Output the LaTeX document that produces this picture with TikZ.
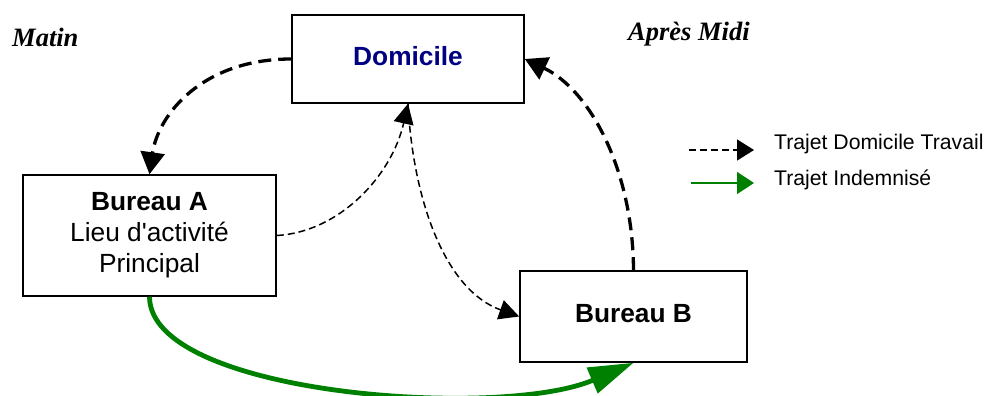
\documentclass[tikz,border=0pt]{standalone}
\usepackage{fontspec}
\setmainfont{Liberation Sans}[Ligatures=TeXOff]
\newfontfamily\serifbi{Liberation Serif}[BoldItalicFont={* Bold Italic}]
\usetikzlibrary{arrows.meta}
\definecolor{domblue}{RGB}{0,0,128}
\definecolor{indemn}{RGB}{0,128,0}
\tikzset{
  place/.style={draw=black, line width=1.6pt, fill=white, inner sep=0pt,
    align=center, font=\fontsize{26.3}{31}\selectfont},
  tripthick/.style={draw=black, line width=3.3pt, dash pattern=on 13pt off 7pt,
    -{Triangle[length=22pt,width=24pt]}},
  tripthin/.style={draw=black, line width=1.5pt, dash pattern=on 7pt off 4pt,
    -{Triangle[length=20pt,width=20pt]}},
  paid/.style={draw=indemn, line width=4.8pt,
    -{Triangle[length=45pt,width=27pt,fill=indemn]}},
  period/.style={font=\serifbi\bfseries\itshape\fontsize{26.5}{30}\selectfont},
  legendtxt/.style={font=\fontsize{21.2}{24}\selectfont, inner sep=0pt},
}
\begin{document}
\begin{tikzpicture}[x=1pt, y=-1pt]
\useasboundingbox (0,0) rectangle (988,396);

% places
\node[place, minimum width=232pt, minimum height=88pt,
      text height=19pt, text depth=5.6pt] (dom) at (408,59)
      {\bfseries\color{domblue}Domicile};
\node[place, minimum width=253pt, minimum height=121pt] (ba) at (149.5,235.5)
      {\bfseries Bureau A\\Lieu d'activité\\Principal};
\node[place, minimum width=227pt, minimum height=91pt,
      text height=18.6pt, text depth=7.6pt] (bb) at (633.5,316.5)
      {\bfseries Bureau B};

% time of day
\node[period, anchor=base west, inner sep=0pt] (matin) at (12,47) {Matin};
\node[period, anchor=base west, inner sep=0pt] (midi) at (628,41) {Après Midi};

% home-work trips
\draw[tripthick] (dom.west) .. controls (202,59) and (158,115) .. (ba.north);
\draw[tripthick] (bb.north) .. controls (633,170) and (590,90) .. (dom.east);
\draw[tripthin] (ba.east) .. controls (340,232) and (392,175) .. (dom.south);
\draw[tripthin] (dom.south) .. controls (413,200) and (445,290) .. (bb.west);

% compensated trip
\draw[paid] (ba.south) .. controls (150,395) and (500,420) .. (bb.south);

% legend
\coordinate (l1a) at (689,150);
\coordinate (l1b) at (754,150);
\coordinate (l2a) at (691,183);
\coordinate (l2b) at (754,183);
\draw[black, line width=1.5pt, dash pattern=on 7pt off 4pt,
      -{Triangle[length=17pt,width=21pt]}] (l1a) -- (l1b);
\draw[indemn, line width=1.5pt,
      -{Triangle[length=17pt,width=22pt]}] (l2a) -- (l2b);
\node[legendtxt, anchor=base west] (leg1) at (774,149) {Trajet Domicile Travail};
\node[legendtxt, anchor=base west] (leg2) at (774,185) {Trajet Indemnisé};
\end{tikzpicture}
\end{document}
